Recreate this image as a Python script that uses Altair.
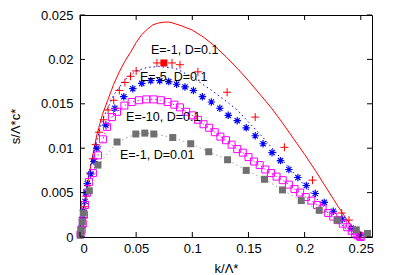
import altair as alt
import pandas as pd

# ---- data ----
red_line_k = [0, 0.003, 0.006, 0.01, 0.015, 0.02, 0.025, 0.03, 0.035, 0.04, 0.045, 0.05, 0.055,
              0.06, 0.065, 0.07, 0.075, 0.08, 0.085, 0.09, 0.1, 0.11, 0.12, 0.13, 0.14, 0.15,
              0.16, 0.17, 0.18, 0.19, 0.2, 0.21, 0.22, 0.23, 0.24, 0.25]
red_line_s = [0, 0.0028, 0.0055, 0.0083, 0.0115, 0.0138, 0.0155, 0.0172, 0.0186, 0.0198, 0.0208,
              0.0219, 0.0228, 0.0234, 0.0239, 0.0241, 0.0242, 0.0242, 0.0240, 0.0238, 0.0233,
              0.0225, 0.0215, 0.0203, 0.0190, 0.0176, 0.0161, 0.0146, 0.0129, 0.0111, 0.0093,
              0.0074, 0.0054, 0.0034, 0.0015, 0.0]

red_plus_k = [0.0005, 0.0015, 0.0025, 0.004, 0.0055, 0.007, 0.009, 0.0115, 0.014, 0.017, 0.021,
              0.025, 0.03, 0.035, 0.04, 0.045, 0.05, 0.0685, 0.0819, 0.089, 0.105, 0.131, 0.156,
              0.182, 0.207, 0.233, 0.2395, 0.245, 0.25]
red_plus_s = [0.0003, 0.0012, 0.0022, 0.0034, 0.0046, 0.0058, 0.0072, 0.0088, 0.0104, 0.0118,
              0.0132, 0.0143, 0.0154, 0.0165, 0.0174, 0.0181, 0.0187, 0.0196, 0.0196, 0.0194,
              0.0186, 0.0163, 0.0135, 0.0101, 0.0064, 0.0027, 0.0019, 0.0008, 0.0002]

red_max_k = [0.0747]
red_max_s = [0.0196]

blue_line_k = [0, 0.005, 0.01, 0.02, 0.03, 0.04, 0.05, 0.06, 0.07, 0.085, 0.1, 0.115, 0.129,
               0.14, 0.163, 0.182, 0.2, 0.215, 0.229, 0.24, 0.247]
blue_line_s = [0, 0.005, 0.0085, 0.0132, 0.016, 0.0177, 0.0187, 0.0191, 0.0192, 0.019, 0.018,
               0.0167, 0.0154, 0.0143, 0.0112, 0.0084, 0.0058, 0.0037, 0.0018, 0.0006, 0.0]

blue_pts_k = [0.001, 0.002, 0.003, 0.0045, 0.0055, 0.0065, 0.0095, 0.0125, 0.015, 0.023, 0.031,
              0.039, 0.047, 0.055, 0.063, 0.071, 0.079, 0.086, 0.0935, 0.101, 0.109, 0.117,
              0.1245, 0.132, 0.14, 0.148, 0.156, 0.163, 0.171, 0.1785, 0.186, 0.194, 0.2015,
              0.2095, 0.2175, 0.2255, 0.2335, 0.2415, 0.249]
blue_pts_s = [0.001, 0.002, 0.003, 0.004, 0.005, 0.006, 0.0071, 0.0085, 0.0100, 0.0126, 0.0145,
              0.0158, 0.0167, 0.0173, 0.0176, 0.0176, 0.0175, 0.0172, 0.0169, 0.0165, 0.0158,
              0.0152, 0.0145, 0.0137, 0.0131, 0.0123, 0.0114, 0.0105, 0.0095, 0.0086, 0.0076,
              0.0067, 0.0058, 0.0049, 0.0039, 0.0029, 0.002, 0.001, 0.0002]

mag_k = [0.0005, 0.0015, 0.0025, 0.0035, 0.0044, 0.0062, 0.008, 0.0115, 0.016, 0.0204, 0.024,
         0.0284, 0.033, 0.0395, 0.046, 0.0525, 0.059, 0.0655, 0.072, 0.078, 0.084, 0.089,
         0.0945, 0.1, 0.105, 0.11, 0.115, 0.12, 0.125, 0.13, 0.135, 0.14, 0.145, 0.15, 0.155,
         0.16, 0.165, 0.17, 0.175, 0.1805, 0.186, 0.191, 0.196, 0.201, 0.206, 0.211, 0.216,
         0.221, 0.2255, 0.2295, 0.234, 0.238, 0.242, 0.245, 0.247, 0.249, 0.25]
mag_s = [0.0003, 0.0008, 0.0015, 0.0025, 0.0036, 0.005, 0.0062, 0.0072, 0.0092, 0.011, 0.0124,
         0.0135, 0.0141, 0.0148, 0.0152, 0.0154, 0.0155, 0.0155, 0.0154, 0.0152, 0.0149, 0.0146,
         0.0141, 0.0137, 0.0132, 0.0127, 0.0123, 0.0118, 0.0113, 0.0109, 0.0104, 0.0099,
         0.0095, 0.009, 0.0085, 0.0081, 0.0076, 0.0072, 0.0068, 0.0064, 0.0059, 0.0054, 0.005,
         0.0045, 0.0041, 0.0036, 0.0032, 0.0027, 0.0023, 0.0019, 0.0015, 0.0011, 0.0007,
         0.0004, 0.0002, 0.0001, 0.0]

gray_k = [0.0003, 0.001, 0.002, 0.003, 0.0083, 0.016, 0.033, 0.0497, 0.0577, 0.0657, 0.0826,
          0.0986, 0.1146, 0.1314, 0.148, 0.1643, 0.1803, 0.197, 0.213, 0.229, 0.246, 0.256]
gray_s = [0.0002, 0.0008, 0.0017, 0.0027, 0.0052, 0.0081, 0.0107, 0.0116, 0.0117, 0.0116,
          0.0112, 0.0105, 0.0096, 0.0087, 0.0075, 0.0065, 0.0053, 0.0041, 0.003, 0.0019,
          0.0008, 0.0004]

label_text = ["E=-1, D=0.1", "E=-5, D=0.1", "E=-10, D=0.1", "E=-1, D=0.01"]
label_k = [0.0632, 0.0534, 0.041, 0.0356]
label_s = [0.02105, 0.0180, 0.0135, 0.0092]

x_ticks = [0, 0.05, 0.1, 0.15, 0.2, 0.25]
y_ticks = [0, 0.005, 0.01, 0.015, 0.02, 0.025]

W, H = 292, 222
FONT = "Liberation Sans"

xs = alt.Scale(domain=[0, 0.26], nice=False, zero=False)
ys = alt.Scale(domain=[0, 0.025], nice=False, zero=False)

x_axis = alt.Axis(values=x_ticks, format=".2~f", ticks=False, domain=False, grid=False,
                  labelPadding=5, title="k/Λ*", titleX=146, titleY=31,
                  titleBaseline="middle", titleAlign="center")
y_axis = alt.Axis(values=y_ticks, format=".3~f", ticks=False, domain=False, grid=False,
                  labelPadding=7, title="s/Λ*c*", titleX=-65, titleY=111,
                  titleBaseline="middle", titleAlign="center", titleAngle=270)


def df(k, s):
    return pd.DataFrame({"k": k, "s": s})


def X(axis=alt.Undefined):
    return alt.X("k:Q", scale=xs, axis=axis)


def Y(axis=alt.Undefined):
    return alt.Y("s:Q", scale=ys, axis=axis)


red_line = alt.Chart(df(red_line_k, red_line_s)).mark_line(
    color="#ff0000", strokeWidth=1).encode(x=X(x_axis), y=Y(y_axis), order="k:Q")

PLUS = "M-1,0L1,0M0,-1L0,1"
STAR = "M-1,0L1,0M0,-1L0,1M-0.7,-0.7L0.7,0.7M-0.7,0.7L0.7,-0.7"

red_plus = alt.Chart(df(red_plus_k, red_plus_s)).mark_point(
    shape=PLUS, size=64, color="#ff0000", strokeWidth=1, filled=False, opacity=1
).encode(x=X(), y=Y())

red_max = alt.Chart(df(red_max_k, red_max_s)).mark_point(
    shape="square", size=49, color="#ff0000", filled=True, opacity=1
).encode(x=X(), y=Y())

blue_line = alt.Chart(df(blue_line_k, blue_line_s)).mark_line(
    color="#0000ff", strokeWidth=1, strokeDash=[1.5, 3]).encode(x=X(), y=Y(), order="k:Q")

blue_pts = alt.Chart(df(blue_pts_k, blue_pts_s)).mark_point(
    shape=STAR, size=56, color="#0000ff", strokeWidth=1.2, filled=False, opacity=1
).encode(x=X(), y=Y())

mag_line = alt.Chart(df(mag_k, mag_s)).mark_line(
    color="#ff00ff", strokeWidth=1, strokeDash=[1.5, 3]).encode(x=X(), y=Y(), order="k:Q")

mag_pts = alt.Chart(df(mag_k, mag_s)).mark_point(
    shape="square", size=49, color="#ff00ff", strokeWidth=1, filled=False, opacity=1
).encode(x=X(), y=Y())

gray_line = alt.Chart(df(gray_k, gray_s)).mark_line(
    color="#a0a0a0", strokeWidth=1, strokeDash=[1.5, 3]).encode(x=X(), y=Y(), order="k:Q")

gray_pts = alt.Chart(df(gray_k, gray_s)).mark_point(
    shape="square", size=49, color="#707070", filled=True, opacity=1
).encode(x=X(), y=Y())

labels = alt.Chart(pd.DataFrame({"k": label_k, "s": label_s, "t": label_text})).mark_text(
    align="left", baseline="middle", font=FONT, fontSize=12.5, color="black"
).encode(x=X(), y=Y(), text="t:N")

xt = pd.DataFrame({"k": x_ticks})
yt = pd.DataFrame({"s": y_ticks})
tick_b = alt.Chart(xt).mark_rule(color="black", strokeWidth=1).encode(
    x=X(), y=alt.value(H), y2=alt.value(H - 5))
tick_t = alt.Chart(xt).mark_rule(color="black", strokeWidth=1).encode(
    x=X(), y=alt.value(0), y2=alt.value(5))
tick_l = alt.Chart(yt).mark_rule(color="black", strokeWidth=1).encode(
    y=Y(), x=alt.value(0), x2=alt.value(5))
tick_r = alt.Chart(yt).mark_rule(color="black", strokeWidth=1).encode(
    y=Y(), x=alt.value(W), x2=alt.value(W - 5))

chart = alt.layer(
    red_line, red_plus, red_max, blue_line, blue_pts, mag_line, mag_pts, gray_line, gray_pts,
    labels, tick_b, tick_t, tick_l, tick_r
).properties(
    width=W, height=H,
    autosize=alt.AutoSizeParams(type="none"),
    padding={"left": 72, "top": 7, "right": 13, "bottom": 38},
    background="white",
).configure_view(
    stroke="black", strokeWidth=1
).configure_axis(
    labelFont=FONT, labelFontSize=13, labelColor="black",
    titleFont=FONT, titleFontSize=13, titleColor="black", titleFontWeight="normal"
)

chart.save("out.html", embed_options={"renderer": "svg", "actions": False})
